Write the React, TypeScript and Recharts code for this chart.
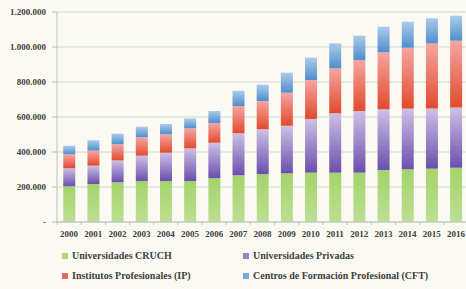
import React from "react";
import {
  BarChart,
  Bar,
  XAxis,
  YAxis,
  CartesianGrid,
  Legend,
} from "recharts";

const YEARS = [
  "2000", "2001", "2002", "2003", "2004", "2005", "2006", "2007", "2008",
  "2009", "2010", "2011", "2012", "2013", "2014", "2015", "2016",
];

// matrícula por tipo de institución, en número de alumnos
const CRUCH = [
  205000, 217000, 227000, 234000, 234000, 234000, 250000, 267000, 274000,
  278000, 282000, 282000, 282000, 297000, 301000, 305000, 310000,
];
const PRIVADAS = [
  102000, 105000, 125000, 145000, 162000, 187000, 203000, 240000, 256000,
  272000, 307000, 339000, 352000, 347000, 347000, 343000, 345000,
];
const IP = [
  80000, 86000, 92000, 105000, 105000, 114000, 113000, 156000, 161000,
  189000, 222000, 257000, 292000, 326000, 348000, 373000, 381000,
];
const CFT = [
  49000, 59000, 61000, 61000, 59000, 57000, 68000, 87000, 94000,
  114000, 128000, 143000, 139000, 146000, 149000, 143000, 143000,
];

const Y_TICKS = [0, 200000, 400000, 600000, 800000, 1000000, 1200000];

const SERIES = [
  { key: "cruch", name: "Universidades CRUCH", swatch: "#a9d67a", top: "#a4d36a", bottom: "#bcdf94" },
  { key: "privadas", name: "Universidades Privadas", swatch: "#9282c8", top: "#cdc0e6", bottom: "#6a4fad" },
  { key: "ip", name: "Institutos Profesionales (IP)", swatch: "#e26a62", top: "#f5a5a3", bottom: "#e24a2c" },
  { key: "cft", name: "Centros de Formación Profesional (CFT)", swatch: "#79a8da", top: "#abcbea", bottom: "#4f8ecc" },
];

const data = YEARS.map((year, i) => ({
  year,
  cruch: CRUCH[i],
  privadas: PRIVADAS[i],
  ip: IP[i],
  cft: CFT[i],
}));

const FONT = "'Liberation Serif', 'Times New Roman', serif";
const TEXT = "#404040";

function formatThousands(v: number): string {
  if (v === 0) return "-";
  return String(v).replace(/\B(?=(\d{3})+(?!\d))/g, ".");
}

function YearTick(props: any) {
  const { x, y, payload } = props;
  const half = payload.offset || 0;
  return (
    <g>
      <line x1={x - half} y1={y} x2={x - half} y2={y + 3} stroke="#bfbfbf" />
      <text
        x={x}
        y={y + 15}
        textAnchor="middle"
        fontFamily={FONT}
        fontWeight="bold"
        fontSize={9}
        fill={TEXT}
      >
        {payload.value}
      </text>
    </g>
  );
}

function renderLegend() {
  return (
    <div
      style={{
        display: "grid",
        gridTemplateColumns: "181px 220px",
        rowGap: 7,
        paddingLeft: 62,
        paddingTop: 7,
        fontFamily: FONT,
        fontWeight: "bold",
        fontSize: 10,
        color: TEXT,
        height: 40,
        boxSizing: "border-box",
      }}
    >
      {SERIES.map((s) => (
        <div key={s.key} style={{ display: "flex", alignItems: "center", height: 13 }}>
          <span
            style={{
              display: "inline-block",
              width: 6,
              height: 6,
              marginRight: 4,
              backgroundColor: s.swatch,
            }}
          />
          <span style={{ whiteSpace: "nowrap" }}>{s.name}</span>
        </div>
      ))}
    </div>
  );
}

export default function App() {
  return (
    <div
      style={{
        position: "fixed",
        left: 0,
        top: 0,
        width: 466,
        height: 289,
        overflow: "hidden",
        background: "#fafaf3",
      }}
    >
      <svg width={0} height={0} style={{ position: "absolute" }}>
        <defs>
          {SERIES.map((s) => (
            <linearGradient key={s.key} id={`grad-${s.key}`} x1="0" y1="0" x2="0" y2="1">
              <stop offset="0%" stopColor={s.top} />
              <stop offset="100%" stopColor={s.bottom} />
            </linearGradient>
          ))}
        </defs>
      </svg>
      <BarChart
        width={470}
        height={289}
        data={data}
        margin={{ top: 12, right: 2, bottom: 7, left: 0 }}
        barCategoryGap="26%"
      >
        <CartesianGrid vertical={false} stroke="#d6d6d0" />
        <XAxis
          dataKey="year"
          height={20}
          tickLine={false}
          tickSize={0}
          tickMargin={0}
          stroke="#bfbfbf"
          interval={0}
          tick={<YearTick />}
        />
        <YAxis
          width={57}
          domain={[0, 1200000]}
          ticks={Y_TICKS}
          tickSize={5}
          tickMargin={6}
          stroke="#bfbfbf"
          tickFormatter={formatThousands}
          tick={{ fontFamily: FONT, fontWeight: "bold", fontSize: 9, fill: TEXT }}
        />
        <Legend
          verticalAlign="bottom"
          content={renderLegend}
          wrapperStyle={{ left: 0, width: 466, height: 40 }}
        />
        {SERIES.map((s) => (
          <Bar
            key={s.key}
            dataKey={s.key}
            name={s.name}
            stackId="total"
            fill={`url(#grad-${s.key})`}
            isAnimationActive={false}
          />
        ))}
      </BarChart>
    </div>
  );
}
